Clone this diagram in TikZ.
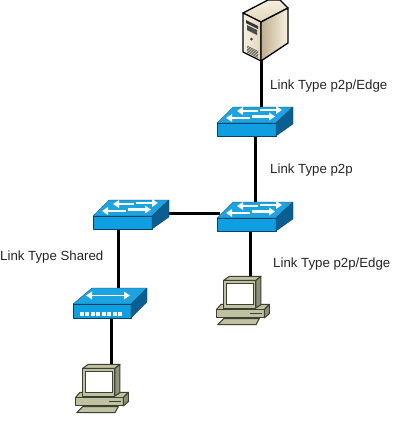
\documentclass[tikz,border=0pt]{standalone}
\usepackage{fontspec}
\setmainfont{Liberation Sans}
\usetikzlibrary{arrows.meta}
\definecolor{swtop}{HTML}{1CA3E0}
\definecolor{swfront}{HTML}{0F9FE0}
\definecolor{swside}{HTML}{0A5E92}
\definecolor{pcface}{HTML}{BFC1A0}
\definecolor{pcdark}{HTML}{8E9078}
\definecolor{pcedge}{HTML}{3E3F33}
\definecolor{srvlight}{HTML}{F6F0E0}
\definecolor{srvmid}{HTML}{E2D6BC}
\definecolor{srvdark}{HTML}{BFAE8E}
\tikzset{
  link/.style={line width=3pt,black},
  lbl/.style={anchor=west,inner sep=0pt,font=\fontsize{13.25pt}{15pt}\selectfont,text=black!85},
  swedge/.style={draw=swside!70!black,line width=0.3pt,line join=round},
  swarrow/.style={white,line width=2.4pt,-{Triangle[length=6pt,width=7.5pt]}},
  pcpart/.style={draw=pcedge,line width=1pt,line join=round},
  srv/.style={draw=black,line width=1.3pt,line join=round},
  switchdev/.pic={
    \path[swedge,fill=swtop] (16,0)--(76,0)--(59,16)--(0,16)--cycle;
    \path[swedge,fill=swfront] (0,16)--(59,16)--(59,29)--(0,29)--cycle;
    \path[swedge,fill=swside] (76,0)--(76,17)--(59,29)--(59,16)--cycle;
    \draw[swarrow] (41,4)--(20,4);
    \draw[swarrow] (43,3)--(65,3);
    \draw[swarrow] (33,11)--(9,11);
    \draw[swarrow] (35,9.5)--(58,9.5);
  },
  hubdev/.pic={
    \path[swedge,fill=swtop] (19,0)--(74,0)--(58,16)--(0,16)--cycle;
    \path[swedge,fill=swfront] (0,16)--(58,16)--(58,30)--(0,30)--cycle;
    \path[swedge,fill=swside] (74,0)--(74,14)--(58,30)--(58,16)--cycle;
    \draw[white,line width=1.9pt,{Triangle[length=6pt,width=7.5pt]}-{Triangle[length=6pt,width=7.5pt]}] (13,7.5)--(57,7.5);
    \foreach \i in {0,...,7} \fill[white] (6.5+\i*5.5,24) rectangle +(4,3.6);
  },
  pcdev/.pic={
    \begin{scope}[x=0.3333pt,y=-0.3333pt]
      \path[pcpart,fill=pcface] (46,143)--(60,127)--(205,127)--(190,143)--cycle;
      \path[pcpart,fill=pcface] (46,143)--(190,143)--(190,168)--(46,168)--cycle;
      \path[pcpart,fill=pcdark] (205,127)--(205,155)--(190,168)--(190,143)--cycle;
      \draw[line width=0.8pt,pcedge] (148,154)--(184,154);
      \path[pcpart,fill=pcface] (68,170)--(175,170)--(165,188)--(50,188)--cycle;
      \path[pcpart,fill=pcface] (68,55)--(85,43)--(180,43)--(165,55)--cycle;
      \path[pcpart,fill=pcface] (68,55)--(165,55)--(165,138)--(68,138)--cycle;
      \path[pcpart,fill=pcdark] (180,43)--(180,128)--(165,138)--(165,55)--cycle;
      \path[draw=pcedge,line width=0.7pt,fill=white] (77,65)--(158,65)--(158,127)--(77,127)--cycle;
    \end{scope}
  },
}
\begin{document}
\begin{tikzpicture}[x=1pt,y=-1pt]
\useasboundingbox (0,0) rectangle (418,429);
\fill[white] (0,0) rectangle (418,429);
% connection points
\coordinate (srvport) at (261.7,58);
\coordinate (sw1up) at (261.7,110);
\coordinate (sw1down) at (255,134);
\coordinate (sw2up) at (255,204);
\coordinate (sw2left) at (220,213.5);
\coordinate (sw3right) at (165,213.5);
\coordinate (sw2down) at (250,230);
\coordinate (pc2up) at (250,285);
\coordinate (sw3down) at (118.5,228);
\coordinate (hubup) at (118.5,292);
\coordinate (hubdown) at (111,316);
\coordinate (pc1up) at (111,366);
% connectors
\draw[link] (srvport)--(sw1up);
\draw[link] (sw1down)--(sw2up);
\draw[link] (sw2left)--(sw3right);
\draw[link] (sw2down)--(pc2up);
\draw[link] (sw3down)--(hubup);
\draw[link] (hubdown)--(pc1up);
% server
\path[srv,top color=srvlight,bottom color=srvmid] (243,13)--(268,0)--(280,0)--(288,8)--(261,22)--cycle;
\path[srv,left color=srvlight,right color=srvmid] (243,13)--(261,22)--(261,61)--(243,52)--cycle;
\path[srv,left color=srvdark,right color=srvlight] (261,22)--(288,8)--(288,43)--(261,61)--cycle;
\fill[black!80] (246,20)--(258,26)--(258,29)--(246,23)--cycle;
\fill[black!70] (247,25)--(257,30)--(257,35)--(247,30)--cycle;
\fill[black!75] (251.5,39) circle (1.5pt);
\foreach \d in {0,1.5,...,6} \draw[black!75,line width=0.6pt] (247,46+\d)--(258,51.5+\d);
% devices
\pic at (217,107) {switchdev};
\pic at (217,202) {switchdev};
\pic at (93,200) {switchdev};
\pic at (73,288) {hubdev};
\pic at (60,350) {pcdev};
\pic at (201,262) {pcdev};
% labels
\node[lbl] (l1) at (270,86) {Link Type p2p/Edge};
\node[lbl] (l2) at (270,170) {Link Type p2p};
\node[lbl] (l3) at (0,257) {Link Type Shared};
\node[lbl] (l4) at (273,264) {Link Type p2p/Edge};
\end{tikzpicture}
\end{document}
